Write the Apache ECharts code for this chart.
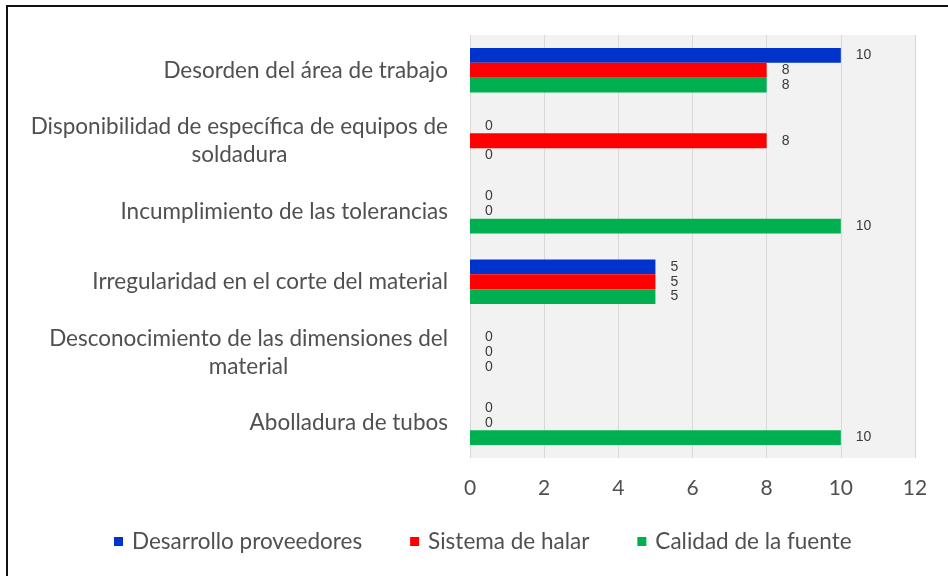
<!DOCTYPE html>
<html>
<head>
<meta charset="utf-8">
<script src="https://cdn.jsdelivr.net/npm/echarts@6/dist/echarts.min.js"></script>
<style>html,body{margin:0;padding:0;background:#fff}#c{width:948px;height:576px}</style>
</head>
<body>
<div id="c"></div>
<script>
const categories = [
  "Desorden del área de trabajo",
  "Disponibilidad de específica de equipos de\nsoldadura",
  "Incumplimiento de las tolerancias",
  "Irregularidad en el corte del material",
  "Desconocimiento de las dimensiones del\nmaterial",
  "Abolladura de tubos"
];
const seriesNames = ["Desarrollo proveedores", "Sistema de halar", "Calidad de la fuente"];
const desarrollo = [10, 0, 0, 5, 0, 0];
const sistema = [8, 8, 0, 5, 0, 0];
const calidad = [8, 0, 10, 5, 0, 10];
const xTicks = [0, 2, 4, 6, 8, 10, 12];
const colors = ["#0033cc", "#ff0000", "#00b050"];

const FONT = "Lato, 'Open Sans', sans-serif";
const TXT = '#505050';
const FS = 22.5;
const chart = echarts.init(document.getElementById('c'));
const values = [desarrollo, sistema, calidad];

function mkSeries(i) {
  return {
    name: seriesNames[i],
    type: 'bar',
    data: values[i],
    itemStyle: { color: colors[i] },
    barGap: '0%',
    barCategoryGap: '37%',
    label: {
      show: true,
      position: 'right',
      distance: 15,
      color: '#3a3a3a',
      fontFamily: "'Liberation Sans', Arial, sans-serif",
      fontSize: 14
    },
    emphasis: { disabled: true },
    animation: false
  };
}

chart.setOption({
  animation: false,
  backgroundColor: '#ffffff',
  grid: {
    left: 470, right: 33, top: 35, bottom: 118,
    show: true, backgroundColor: '#f2f2f2', borderWidth: 0,
    containLabel: false
  },
  legend: {
    data: seriesNames,
    left: 109,
    top: 525,
    itemWidth: 9,
    itemHeight: 9,
    icon: 'rect',
    itemGap: 48,
    textStyle: { color: TXT, fontSize: FS, fontFamily: FONT, padding: [0, 0, 0, 4] }
  },
  xAxis: {
    type: 'value',
    min: xTicks[0],
    max: xTicks[xTicks.length - 1],
    interval: 2,
    axisLine: { show: false },
    axisTick: { show: false },
    splitLine: { show: true, lineStyle: { color: '#d9d9d9', width: 1 } },
    axisLabel: { color: TXT, fontSize: 21, fontFamily: FONT, margin: 20 }
  },
  yAxis: {
    type: 'category',
    data: categories,
    inverse: true,
    axisLine: { show: false },
    axisTick: { show: false },
    axisLabel: {
      margin: 22,
      color: TXT,
      fontSize: FS,
      fontFamily: FONT,
      lineHeight: 28,
      formatter: function (v) {
        return v.split('\n').map(function (s) { return '{c|' + s + '}'; }).join('\n');
      },
      rich: {
        c: { align: 'center', color: TXT, fontSize: FS, fontFamily: FONT, lineHeight: 28 }
      }
    }
  },
  series: [mkSeries(0), mkSeries(1), mkSeries(2)],
  graphic: [{
    type: 'rect',
    shape: { x: 7, y: 6, width: 960, height: 600 },
    style: { fill: 'none', stroke: '#111', lineWidth: 2 },
    silent: true
  }]
});
</script>
</body>
</html>
